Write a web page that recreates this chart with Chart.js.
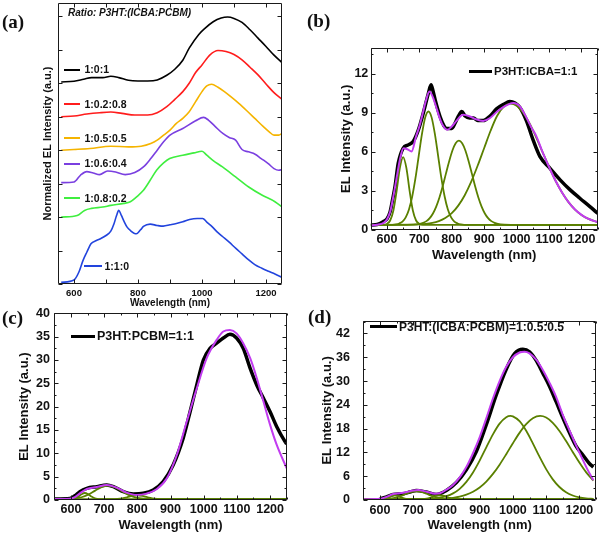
<!DOCTYPE html>
<html><head><meta charset="utf-8">
<script src="https://cdn.jsdelivr.net/npm/chart.js@4.4.1/dist/chart.umd.min.js"></script>
<style>
html,body{margin:0;padding:0;background:#fff;}
#wrap{position:relative;width:600px;height:534px;overflow:hidden;font-family:"Liberation Sans",Arial,sans-serif;}
canvas{position:absolute;}
.lbl{position:absolute;font-family:"Liberation Serif","Times New Roman",serif;font-weight:bold;font-size:19px;line-height:1.2;white-space:nowrap;color:#111;}
.leg{position:absolute;font-weight:bold;line-height:1.2;white-space:nowrap;color:#111;}
.ln{position:absolute;}
</style></head><body><div id="wrap">
<canvas id="ca" width="300" height="312" style="left:0;top:0"></canvas>
<canvas id="cb" width="300" height="240" style="left:300px;top:30px"></canvas>
<canvas id="cc" width="300" height="234" style="left:0;top:300px"></canvas>
<canvas id="cd" width="300" height="234" style="left:300px;top:300px"></canvas>
</div>
<script>
// ---------- Panel (a): normalized, offset EL spectra ----------
const aLabels = ['1:0:1','1:0.2:0.8','1:0.5:0.5','1:0.6:0.4','1:0.8:0.2','1:1:0'];
const a_101 = [[560,6.04],[600,6.06],[630,6.12],[655,6.17],[690,6.17],[715,6.21],[740,6.17],[770,6.09],[800,6.07],[830,6.07],[860,6.1],[890,6.24],[915,6.42],[940,6.69],[960,7.05],[990,7.46],[1010,7.65],[1035,7.84],[1060,7.95],[1080,7.98],[1100,7.94],[1125,7.82],[1150,7.6],[1175,7.35],[1200,7.1],[1225,6.84],[1250,6.62]];
const a_10208 = [[560,5.0],[600,5.02],[640,5.08],[680,5.12],[715,5.14],[750,5.1],[790,5.05],[830,5.05],[860,5.12],[890,5.3],[915,5.52],[940,5.75],[960,6.0],[980,6.32],[1000,6.55],[1025,6.85],[1050,6.98],[1075,6.95],[1100,6.86],[1125,6.7],[1150,6.48],[1175,6.25],[1200,5.98],[1225,5.72],[1250,5.52]];
const a_10505 = [[560,4.0],[600,4.02],[650,4.05],[715,4.12],[770,4.1],[810,4.12],[840,4.2],[860,4.3],[880,4.45],[900,4.6],[920,4.8],[940,4.95],[960,5.15],[980,5.45],[1000,5.75],[1015,5.92],[1030,5.97],[1050,5.88],[1070,5.75],[1090,5.6],[1115,5.4],[1140,5.18],[1165,4.95],[1190,4.72],[1210,4.55],[1225,4.45],[1240,4.45],[1250,4.5]];
const a_10604 = [[560,3.03],[600,3.05],[620,3.25],[640,3.36],[660,3.32],[680,3.27],[705,3.38],[730,3.35],[760,3.27],[790,3.33],[817,3.5],[840,3.75],[860,4.0],[880,4.25],[900,4.45],[940,4.65],[980,4.88],[1005,4.98],[1020,4.9],[1040,4.72],[1065,4.5],[1085,4.38],[1105,4.3],[1125,4.02],[1145,3.95],[1166,3.88],[1185,3.75],[1207,3.6],[1225,3.45],[1240,3.4],[1250,3.42]];
const a_10802 = [[560,2.0],[610,2.05],[633,2.2],[655,2.26],[690,2.3],[715,2.35],[756,2.41],[776,2.46],[795,2.6],[817,2.8],[838,3.1],[858,3.4],[880,3.62],[899,3.75],[940,3.85],[975,3.92],[1000,3.97],[1015,3.85],[1033,3.7],[1064,3.5],[1105,3.2],[1146,2.9],[1187,2.66],[1228,2.46],[1250,2.3]];
const a_110 = [[560,0.05],[600,0.12],[615,0.35],[628,0.7],[640,0.95],[653,1.2],[670,1.3],[684,1.36],[700,1.45],[715,1.58],[725,1.8],[733,2.05],[740,2.2],[748,2.05],[756,1.88],[766,1.7],[776,1.6],[795,1.5],[808,1.62],[817,1.72],[838,1.79],[860,1.75],[879,1.73],[900,1.77],[920,1.81],[940,1.86],[961,1.93],[985,1.96],[1002,1.96],[1015,1.85],[1033,1.7],[1048,1.55],[1064,1.42],[1085,1.25],[1105,1.07],[1125,0.9],[1146,0.72],[1165,0.58],[1187,0.47],[1208,0.38],[1228,0.3],[1250,0.2]];
const aXTicks = [600,800,1000,1200];
const aXMarks = [600,700,800,900,1000,1100,1200];
const aYMarks = [0,1,2,3,4,5,6,7,8];

// ---------- Panel (b): P3HT:ICBA=1:1 ----------
const b_data = [[550,0.38],[570,0.42],[589,0.65],[600,0.85],[610,1.41],[618,2.4],[625,3.33],[635,5.13],[650,6.28],[666,6.54],[681,6.8],[697,7.69],[712,8.97],[728,10.51],[736,11.15],[742,10.7],[749,9.97],[764,8.7],[776,8.0],[784,7.8],[800,7.8],[810,8.2],[820,8.72],[831,9.1],[841,8.75],[855,8.6],[867,8.6],[880,8.4],[897,8.4],[918,8.75],[938,9.3],[960,9.65],[979,9.87],[995,9.75],[1010,9.4],[1030,8.4],[1051,6.9],[1072,5.64],[1103,4.74],[1134,3.85],[1165,3.08],[1195,2.44],[1226,1.8],[1250,1.28]];
const b_fit = [[550,0.35],[570,0.4],[590,0.55],[600,0.8],[610,1.4],[620,2.6],[630,4.0],[640,5.4],[651,6.28],[663,6.2],[676,6.03],[690,7.2],[700,7.95],[710,8.9],[720,9.9],[731,10.64],[740,10.3],[750,9.6],[760,8.8],[770,8.15],[786,7.69],[800,7.95],[815,8.4],[835,8.85],[856,8.72],[875,8.5],[897,8.38],[918,8.6],[940,9.1],[960,9.45],[975,9.65],[990,9.75],[1010,9.5],[1030,8.65],[1045,7.9],[1060,7.25],[1080,5.98],[1100,4.84],[1120,3.78],[1140,2.88],[1160,2.14],[1180,1.57],[1200,1.16],[1220,0.87],[1240,0.68],[1250,0.61]];
const b_g1 = [[550,0.4],[590,0.4],[600,0.47],[610,0.73],[620,1.5],[630,3.0],[640,4.77],[650,5.6],[660,4.77],[670,3.0],[680,1.5],[690,0.73],[700,0.47],[710,0.4],[1250,0.4]];
const b_g2 = [[550,0.4],[618,0.4],[628,0.43],[638,0.5],[648,0.65],[658,0.97],[668,1.57],[678,2.57],[688,3.98],[698,5.68],[708,7.36],[718,8.63],[728,9.1],[738,8.63],[748,7.36],[758,5.68],[768,3.98],[778,2.57],[788,1.57],[798,0.97],[808,0.65],[818,0.5],[828,0.43],[838,0.4],[1250,0.4]];
const b_g3 = [[550,0.4],[662,0.4],[682,0.41],[702,0.47],[712,0.55],[722,0.68],[732,0.91],[742,1.27],[752,1.8],[762,2.5],[772,3.36],[782,4.33],[792,5.28],[802,6.11],[812,6.67],[822,6.87],[832,6.67],[842,6.11],[852,5.28],[862,4.33],[872,3.36],[882,2.5],[892,1.8],[902,1.27],[912,0.91],[922,0.68],[932,0.55],[942,0.47],[962,0.41],[982,0.4],[1250,0.4]];
const b_g4 = [[550,0.4],[680,0.41],[720,0.47],[740,0.54],[760,0.68],[780,0.92],[800,1.29],[820,1.87],[840,2.67],[860,3.71],[880,4.95],[900,6.3],[920,7.64],[940,8.77],[960,9.45],[980,9.7],[1000,9.55],[1020,9.0],[1040,8.19],[1060,7.14],[1080,5.98],[1100,4.84],[1120,3.78],[1140,2.88],[1160,2.14],[1180,1.57],[1200,1.16],[1220,0.87],[1240,0.68],[1250,0.61]];
const bXTicks = [600,700,800,900,1000,1100,1200];
const bXMinor = [550,650,750,850,950,1050,1150,1250];
const bYTicks = [0,3,6,9,12];
const bYMinor = [1.5,4.5,7.5,10.5,13.5];

// ---------- Panel (c): P3HT:PCBM=1:1 ----------
const c_data = [[550,0.2],[597,0.3],[612,0.9],[627,1.8],[648,2.5],[678,2.86],[708,3.21],[728,2.86],[758,1.79],[788,1.29],[818,1.43],[848,2.14],[878,3.93],[908,7.5],[938,13.2],[959,18.9],[979,24.6],[999,30.0],[1019,32.5],[1039,33.6],[1059,34.7],[1079,35.5],[1099,34.7],[1119,32.5],[1140,28.2],[1160,24.6],[1180,21.8],[1200,18.9],[1220,15.7],[1245,12.5],[1250,12.0]];
const c_fit = [[550,0.2],[597,0.25],[612,0.6],[627,1.43],[648,2.36],[678,2.79],[708,3.21],[738,2.64],[768,1.57],[798,1.07],[828,1.36],[858,2.29],[889,4.64],[919,9.64],[949,16.8],[979,23.9],[1009,30.4],[1039,34.3],[1059,36.1],[1079,36.4],[1099,35.7],[1119,33.6],[1140,30.4],[1160,26.1],[1180,21.1],[1200,16.1],[1220,11.8],[1250,6.8]];
const c_g1 = [[550,0.2],[600,0.2],[612,0.38],[622,0.73],[632,1.24],[642,1.5],[652,1.24],[662,0.73],[672,0.38],[684,0.2],[1250,0.2]];
const c_g2 = [[550,0.2],[572,0.2],[592,0.23],[612,0.33],[632,0.59],[652,1.14],[672,1.96],[692,2.76],[712,3.1],[732,2.76],[752,1.96],[772,1.14],[792,0.59],[812,0.33],[832,0.23],[852,0.2],[1250,0.2]];
const c_g3 = [[550,0.2],[725,0.2],[740,0.245],[755,0.36],[770,0.59],[785,0.87],[800,1.0],[815,0.87],[830,0.59],[845,0.36],[860,0.245],[875,0.2],[1250,0.2]];
const cYTicks = [0,5,10,15,20,25,30,35,40];
const cYMinor = [2.5,7.5,12.5,17.5,22.5,27.5,32.5,37.5];

// ---------- Panel (d): P3HT:(ICBA:PCBM)=1:0.5:0.5 ----------
const d_data = [[600,0.3],[620,0.8],[640,1.4],[670,1.6],[690,2.0],[710,2.4],[740,2.0],[770,1.4],[800,2.4],[830,4.4],[860,7.6],[890,12.2],[920,19.0],[950,26.5],[980,33.0],[1005,36.9],[1030,38.0],[1050,37.4],[1070,35.2],[1090,32.0],[1110,28.7],[1130,24.8],[1150,20.8],[1170,17.0],[1190,13.6],[1210,11.4],[1230,9.2],[1242,8.3]];
const d_fit = [[550,0.2],[600,0.3],[620,0.8],[640,1.5],[660,1.7],[680,2.0],[700,2.4],[715,2.5],[740,2.1],[765,1.6],[780,1.7],[800,2.6],[820,3.8],[840,5.7],[860,8.3],[880,11.8],[900,15.8],[920,20.6],[940,25.6],[960,30.0],[980,33.6],[1000,36.0],[1020,37.2],[1035,37.4],[1050,37.0],[1070,35.4],[1090,32.8],[1110,29.6],[1130,26.0],[1150,21.5],[1170,17.6],[1190,13.8],[1210,10.2],[1225,7.6],[1242,5.0]];
const d_ga = [[550,0.2],[740,0.2],[760,0.37],[780,0.57],[800,0.97],[820,1.67],[840,2.82],[860,4.56],[880,6.95],[900,9.94],[920,13.28],[940,16.56],[960,19.26],[980,20.89],[993,21.2],[1000,21.11],[1020,19.88],[1040,17.46],[1060,14.29],[1080,10.92],[1100,7.79],[1120,5.21],[1140,3.28],[1160,1.96],[1180,1.14],[1200,0.67],[1220,0.42],[1242,0.29]];
const d_gb = [[550,0.2],[780,0.2],[800,0.39],[820,0.56],[840,0.86],[860,1.34],[880,2.09],[900,3.17],[920,4.66],[940,6.58],[960,8.92],[980,11.56],[1000,14.32],[1020,16.93],[1040,19.12],[1060,20.61],[1082,21.2],[1100,20.8],[1120,19.48],[1140,17.42],[1160,14.86],[1180,12.11],[1200,9.43],[1220,7.02],[1242,4.9]];
const d_g1 = [[550,0.2],[595,0.2],[605,0.23],[615,0.34],[625,0.61],[635,1.0],[645,1.2],[655,1.0],[665,0.61],[675,0.34],[685,0.23],[695,0.2],[1242,0.2]];
const d_g2 = [[550,0.2],[600,0.2],[610,0.23],[620,0.27],[630,0.35],[640,0.47],[650,0.66],[660,0.92],[670,1.24],[680,1.59],[690,1.9],[700,2.12],[710,2.2],[720,2.12],[730,1.9],[740,1.59],[750,1.24],[760,0.92],[770,0.66],[780,0.47],[790,0.35],[800,0.27],[810,0.23],[820,0.2],[1242,0.2]];
const d_g3 = [[550,0.2],[720,0.2],[730,0.24],[740,0.335],[750,0.52],[760,0.81],[770,1.08],[780,1.2],[790,1.08],[800,0.81],[810,0.52],[820,0.335],[830,0.24],[840,0.2],[1242,0.2]];
const dYTicks = [0,6,12,18,24,30,36,42];
const dYMinor = [3,9,15,21,27,33,39,45];

// ---------- colours ----------
const C_BLACK = '#000000', C_FIT = '#c23cf0', C_PEAK = '#5a8000';
const aColors = ['#000000','#ff1c1c','#f5b400','#7a3fe0','#3fee3f','#2244dd'];

Chart.defaults.font.family = '"Liberation Sans", Arial, sans-serif';
Chart.defaults.color = '#111';

const frameTicks = {
  id: 'frameTicks',
  afterDatasetsDraw(chart, args, o) {
    const {ctx, chartArea: a, scales: {x, y}} = chart;
    ctx.save();
    ctx.strokeStyle = '#1a1a1a';
    ctx.lineWidth = 1;
    const L = Math.round(a.left) + 0.5, R = Math.round(a.right) - 0.5;
    const T = Math.round(a.top) + 0.5, B = Math.round(a.bottom) - 0.5;
    ctx.beginPath();
    ctx.rect(L, T, R - L, B - T);
    const mark = (vals, len, horiz) => (vals || []).forEach(v => {
      if (horiz) {
        const p = Math.round(x.getPixelForValue(v)) + 0.5;
        ctx.moveTo(p, B); ctx.lineTo(p, B - len); ctx.moveTo(p, T); ctx.lineTo(p, T + len);
      } else {
        const p = Math.round(y.getPixelForValue(v)) + 0.5;
        ctx.moveTo(L, p); ctx.lineTo(L + len, p); ctx.moveTo(R, p); ctx.lineTo(R - len, p);
      }
    });
    mark(o.xMajor, 4, true); mark(o.xMinor, 2, true);
    mark(o.yMajor, 4, false); mark(o.yMinor, 2, false);
    ctx.stroke();
    ctx.restore();
  }
};

const xy = arr => arr.map(([x, y]) => ({x, y}));
const line = (arr, color, width, order) => ({
  data: xy(arr), borderColor: color, borderWidth: width, pointRadius: 0,
  fill: false, tension: 0.4, cubicInterpolationMode: 'monotone', order
});

function makeScales(o) {
  return {
    x: {
      type: 'linear', min: 550, max: 1250,
      afterBuildTicks: s => { s.ticks = o.xTicks.map(v => ({value: v})); },
      afterFit: s => { s.height = o.xH; },
      grid: {display: false, drawTicks: false}, border: {display: false},
      ticks: {padding: o.xPad, font: {size: o.tickSize, weight: 'bold'}, color: '#111',
        maxRotation: 0, autoSkip: false, callback: v => String(v)},
      title: {display: true, text: 'Wavelength (nm)', color: '#111',
        font: {size: o.xTitleSize, weight: 'bold'}, padding: {top: 0, bottom: o.xTitlePad}}
    },
    y: {
      type: 'linear', min: 0, max: o.yMax,
      afterBuildTicks: s => { s.ticks = o.yTicks.map(v => ({value: v})); },
      afterFit: s => { s.width = o.yW; },
      grid: {display: false, drawTicks: false}, border: {display: false},
      ticks: {display: o.yLabels, padding: o.yPad, font: {size: o.tickSize, weight: 'bold'},
        color: '#111', autoSkip: false, callback: v => String(v)},
      title: {display: true, text: o.yTitle, color: '#111',
        font: {size: o.yTitleSize, weight: 'bold'}, padding: {top: o.yTitlePad, bottom: 0}}
    }
  };
}

function makeChart(id, datasets, sc, pad, marks) {
  return new Chart(document.getElementById(id), {
    type: 'line',
    data: {datasets},
    options: {
      responsive: false, animation: false, devicePixelRatio: 1,
      layout: {padding: pad},
      plugins: {legend: {display: false}, tooltip: {enabled: false}, frameTicks: marks},
      scales: makeScales(sc)
    },
    plugins: [frameTicks]
  });
}

// Panel (a)
makeChart('ca',
  [a_101, a_10208, a_10505, a_10604, a_10802, a_110].map((s, i) => line(s, aColors[i], 1.6, i)),
  {xTicks: aXTicks, xH: 28, xPad: 3.5, tickSize: 9.5, xTitleSize: 10, xTitlePad: 2.7,
   yMax: 8.4, yTicks: aYMarks, yW: 58, yLabels: false, yPad: 2, yTitle: 'Normalized EL Intensity (a.u.)',
   yTitleSize: 11, yTitlePad: 41.4},
  {left: 0, top: 3, right: 18, bottom: 0},
  {xMajor: aXMarks, yMajor: aYMarks});

// Panel (b)
makeChart('cb',
  [line(b_fit, C_FIT, 2, 0),
   line(b_g1, C_PEAK, 1.8, 1), line(b_g2, C_PEAK, 1.8, 1), line(b_g3, C_PEAK, 1.8, 1), line(b_g4, C_PEAK, 1.8, 1),
   line(b_data, C_BLACK, 3.5, 2)],
  {xTicks: bXTicks, xH: 40, xPad: 2, tickSize: 12.5, xTitleSize: 13, xTitlePad: 7.2,
   yMax: 14, yTicks: bYTicks, yW: 70.7, yLabels: true, yPad: 2.4, yTitle: 'EL Intensity (a.u.)',
   yTitleSize: 13, yTitlePad: 38.9},
  {left: 0, top: 17.7, right: 2.3, bottom: 0},
  {xMajor: bXTicks, xMinor: bXMinor, yMajor: bYTicks, yMinor: bYMinor});

// Panel (c)
makeChart('cc',
  [line(c_fit, C_FIT, 2, 0),
   line(c_g1, C_PEAK, 1.8, 1), line(c_g2, C_PEAK, 1.8, 1), line(c_g3, C_PEAK, 1.8, 1),
   line(c_data, C_BLACK, 3.5, 2)],
  {xTicks: bXTicks, xH: 34, xPad: 1.8, tickSize: 12.5, xTitleSize: 13, xTitlePad: 1.2,
   yMax: 40, yTicks: cYTicks, yW: 54.3, yLabels: true, yPad: 4.3, yTitle: 'EL Intensity (a.u.)',
   yTitleSize: 13, yTitlePad: 16.2},
  {left: 0, top: 13.3, right: 13.3, bottom: 0},
  {xMajor: bXTicks, xMinor: bXMinor, yMajor: cYTicks, yMinor: cYMinor});

// Panel (d)
makeChart('cd',
  [line(d_fit, C_FIT, 2, 0),
   line(d_g1, C_PEAK, 1.8, 1), line(d_g2, C_PEAK, 1.8, 1), line(d_g3, C_PEAK, 1.8, 1),
   line(d_ga, C_PEAK, 1.8, 1), line(d_gb, C_PEAK, 1.8, 1),
   line(d_data, C_BLACK, 3.5, 2)],
  {xTicks: bXTicks, xH: 34, xPad: 3.2, tickSize: 12.5, xTitleSize: 13, xTitlePad: 1.2,
   yMax: 45.2, yTicks: dYTicks, yW: 63.3, yLabels: true, yPad: 13.3, yTitle: 'EL Intensity (a.u.)',
   yTitleSize: 13, yTitlePad: 19.5},
  {left: 0, top: 12.7, right: 4, bottom: 0},
  {xMajor: bXTicks, xMinor: bXMinor, yMajor: dYTicks, yMinor: dYMinor});

// ---------- text overlays: panel letters, legends, note ----------
const wrap = document.getElementById('wrap');
function addText(cls, text, x, cy, size, extra) {
  const d = document.createElement('div');
  d.className = cls; d.textContent = text;
  const k = cls === 'lbl' ? 0.68 : 0.588;
  d.style.left = x + 'px'; d.style.top = (cy - k * size) + 'px'; d.style.fontSize = size + 'px';
  if (extra) Object.assign(d.style, extra);
  wrap.appendChild(d);
}
function addLine(x1, x2, cy, color, w) {
  const d = document.createElement('div');
  d.className = 'ln';
  Object.assign(d.style, {left: x1 + 'px', top: (cy - w / 2) + 'px', width: (x2 - x1) + 'px', height: w + 'px', background: color});
  wrap.appendChild(d);
}
addText('lbl', '(a)', 2, 23.5, 19);
addText('lbl', '(b)', 307, 22.5, 19);
addText('lbl', '(c)', 2, 320, 19);
addText('lbl', '(d)', 308, 318.5, 19);
addText('leg', 'Ratio: P3HT:(ICBA:PCBM)', 68, 13.3, 10, {fontStyle: 'italic'});
const aLegY = [69.5, 104, 138.3, 163.5, 198.3];
aLegY.forEach((y, i) => { addLine(63.5, 80, y, aColors[i], 2); addText('leg', aLabels[i], 84.5, y, 10.5); });
addLine(84, 101.5, 266, aColors[5], 2); addText('leg', aLabels[5], 104.5, 266, 10.5);
addLine(469, 492, 71.7, C_BLACK, 3); addText('leg', 'P3HT:ICBA=1:1', 494, 71.7, 11.5);
addLine(71, 95, 336.7, C_BLACK, 3); addText('leg', 'P3HT:PCBM=1:1', 97, 336.7, 12.5);
addLine(370, 397, 326.7, C_BLACK, 3); addText('leg', 'P3HT:(ICBA:PCBM)=1:0.5:0.5', 399, 326.7, 12);
</script></body></html>
